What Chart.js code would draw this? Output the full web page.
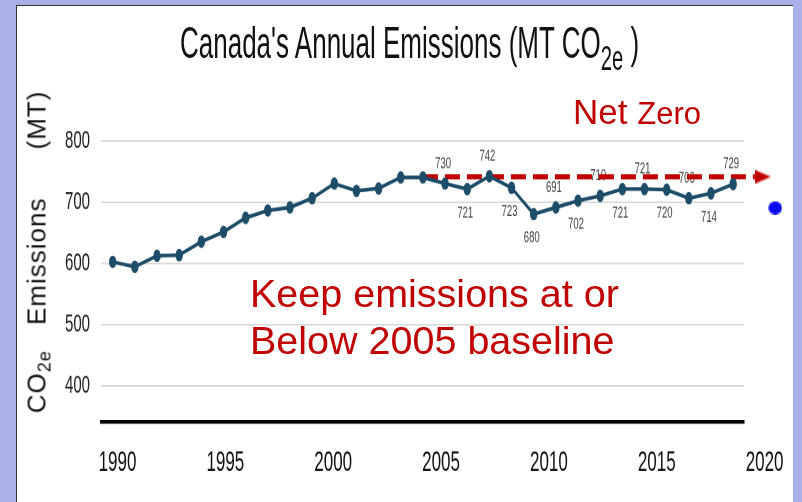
<!DOCTYPE html>
<html>
<head>
<meta charset="utf-8">
<script src="https://cdn.jsdelivr.net/npm/chart.js@4.4.1/dist/chart.umd.min.js"></script>
<style>
  html, body { margin: 0; padding: 0; width: 802px; height: 502px; overflow: hidden; background: #aab0e8; }
  #panel { position: absolute; left: 16px; top: 5px; width: 777px; height: 497px; background: #fff;
           border-left: 1.5px solid #333; border-top: 1.5px solid #333; box-sizing: border-box; }
  /* the chart graphic is drawn compressed and stretched vertically */
  #stretch { position: absolute; left: 0; top: 0; width: 802px; height: 295px;
             transform: scaleY(1.7); transform-origin: 0 0; }
  #stretch canvas { position: absolute; left: 0; top: 0; }
  #title { position: absolute; left: 180px; top: 12.2px; font-family: "Liberation Sans", Arial, sans-serif;
           font-size: 26px; line-height: 1; white-space: nowrap; color: #111; }
  #title .sub { font-size: 0.78em; position: relative; top: 0.32em; }
  .red { position: absolute; color: #c00000; font-family: "Liberation Sans", Arial, sans-serif; white-space: nowrap; }
  #netzero { left: 573px; top: 93.7px; font-size: 35px; line-height: 35px; }
  #netzero .small { font-size: 31px; }
  #keep { left: 250px; top: 270px; font-size: 39.5px; line-height: 46.7px; }
  #ytitle { position: absolute; left: 38px; top: 251.5px; transform: translate(-50%, -50%) rotate(-90deg);
            font-family: "Liberation Sans", Arial, sans-serif; font-size: 26px; line-height: 26px;
            letter-spacing: 1px; white-space: nowrap; color: #111; }
  #ytitle .sub { font-size: 0.7em; position: relative; top: 0.3em; }
</style>
</head>
<body>
<div id="panel"></div>
<div id="stretch">
  <canvas id="chart" width="802" height="295"></canvas>
  <div id="title">Canada's Annual Emissions (MT CO<span class="sub">2e</span> )</div>
</div>
<div id="ytitle">CO<span class="sub">2e</span><span style="margin-left:25px">Emissions</span><span style="margin-left:48px">(MT)</span></div>
<div id="netzero" class="red">Net <span class="small">Zero</span></div>
<div id="keep" class="red">Keep emissions at or<br>Below 2005 baseline</div>

<script>
// Annual emissions, Mt CO2e
const years = [1990, 1991, 1992, 1993, 1994, 1995, 1996, 1997, 1998, 1999,
               2000, 2001, 2002, 2003, 2004, 2005, 2006, 2007, 2008, 2009,
               2010, 2011, 2012, 2013, 2014, 2015, 2016, 2017, 2018];
const emissions = [602, 594, 612, 613, 635, 651, 674, 686, 691, 706,
                   730, 718, 722, 740, 740, 730, 721, 742, 723, 680,
                   691, 702, 710, 721, 721, 720, 706, 714, 729];

// Years whose value is printed, and on which side of the marker
const labelledYears = [2005, 2006, 2007, 2008, 2009, 2010, 2011, 2012, 2013, 2014, 2015, 2016, 2017, 2018];
const labelSides = ['above', 'below', 'above', 'below', 'below', 'above', 'below',
                    'above', 'below', 'above', 'below', 'above', 'below', 'above'];

// Axis labels
const yTickValues = [400, 500, 600, 700, 800];
const xTickLabels = [1990, 1995, 2000, 2005, 2010, 2015, 2020];

// Net-zero target arrow and marker
const targetLevel = 741;
const targetLineYears = [2004, 2018.98];
const targetArrowYear = 2019.35;
const bulletPoint = { x: 2019.9, y: 690 };

const STRETCH = 1.7;

function arrowHead() {
  const c = document.createElement('canvas');
  c.width = 16; c.height = 8;
  const g = c.getContext('2d');
  g.fillStyle = '#c00000';
  g.beginPath(); g.moveTo(0, 0); g.lineTo(16, 4); g.lineTo(0, 8); g.closePath(); g.fill();
  return c;
}
function bullet() {
  const c = document.createElement('canvas');
  c.width = 14; c.height = 8;
  const g = c.getContext('2d');
  g.fillStyle = '#0a0af0';
  g.beginPath(); g.ellipse(7, 4, 6.7, 13.4 / 2 / STRETCH, 0, 0, Math.PI * 2); g.fill();
  return c;
}

const valueLabels = {
  id: 'valueLabels',
  beforeDatasetsDraw(chart) {
    const { ctx, scales: { x, y } } = chart;
    ctx.save();
    ctx.font = '9.5px "Liberation Sans", Arial, sans-serif';
    ctx.fillStyle = '#404040';
    ctx.textAlign = 'center';
    ctx.textBaseline = 'middle';
    labelledYears.forEach((yr, i) => {
      const v = emissions[years.indexOf(yr)];
      const px = x.getPixelForValue(yr) - 2;
      const py = y.getPixelForValue(v) + (labelSides[i] === 'above' ? -11.8 : 14);
      ctx.fillText(String(v), px, py);
    });
    ctx.restore();
  }
};

new Chart(document.getElementById('chart'), {
  type: 'line',
  data: {
    datasets: [
      {
        data: years.map((yr, i) => ({ x: yr, y: emissions[i] })),
        borderColor: '#1d4d68',
        backgroundColor: '#1d4d68',
        borderWidth: 2.2,
        pointRadius: 3.7,
        pointBorderWidth: 0,
        tension: 0
      },
      {
        data: targetLineYears.map(yr => ({ x: yr, y: targetLevel })),
        borderColor: '#c00000',
        borderWidth: 3.1,
        borderDash: [15, 7],
        pointRadius: 0,
        clip: false
      },
      {
        data: [{ x: targetArrowYear, y: targetLevel }],
        showLine: false,
        pointStyle: arrowHead(),
        pointRadius: 30,
        clip: false
      },
      {
        data: [bulletPoint],
        showLine: false,
        pointStyle: bullet(),
        pointRadius: 40,
        clip: false
      }
    ]
  },
  options: {
    responsive: false,
    animation: false,
    devicePixelRatio: 2,
    events: [],
    layout: { padding: { left: 50, right: 58, top: 82.76, bottom: 0 } },
    plugins: { legend: { display: false }, tooltip: { enabled: false } },
    scales: {
      x: { type: 'linear', display: false, min: 1989.472, max: 2018.49 },
      xl: {
        type: 'linear', position: 'bottom', min: 1989.235, max: 2019.045,
        afterBuildTicks: s => { s.ticks = xTickLabels.map(v => ({ value: v })); },
        afterFit: s => { s.height = 47; },
        grid: { display: false, drawTicks: false },
        border: { display: true, color: '#000', width: 2.2 },
        ticks: {
          autoSkip: false, maxRotation: 0, padding: 14, color: '#111',
          font: { family: '"Liberation Sans", Arial, sans-serif', size: 17 },
          callback: v => String(v)
        }
      },
      y: {
        min: 341, max: 800,
        afterBuildTicks: s => { s.ticks = yTickValues.map(v => ({ value: v })); },
        afterFit: s => { s.width = 51; },
        grid: { color: '#d9d9d9', lineWidth: 1, drawTicks: false },
        border: { display: false },
        ticks: {
          padding: 11, color: '#222',
          font: { family: '"Liberation Sans", Arial, sans-serif', size: 15 },
          callback: v => String(v)
        }
      }
    }
  },
  plugins: [valueLabels]
});
</script>
</body>
</html>
